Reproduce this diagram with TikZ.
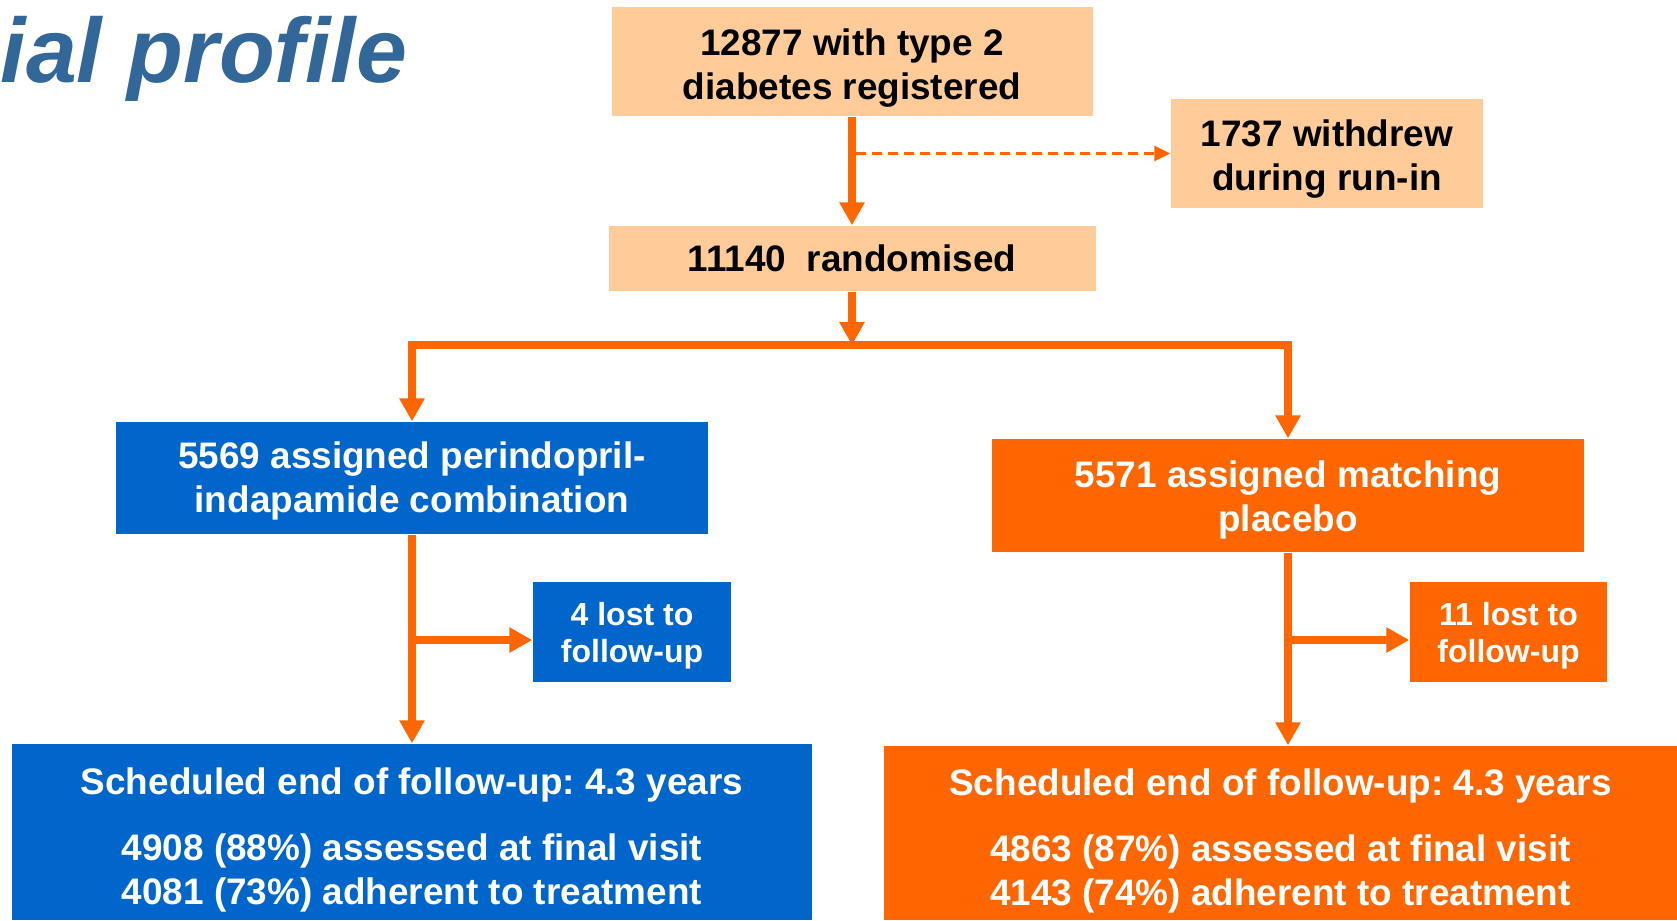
\documentclass[tikz,border=0pt]{standalone}
\usepackage{fontspec}
\setmainfont{Liberation Sans}
\usepackage{xcolor}
\usetikzlibrary{arrows.meta,positioning,calc}
\frenchspacing

\definecolor{peach}{HTML}{FFCC99}
\definecolor{trialblue}{HTML}{0066CC}
\definecolor{trialorange}{HTML}{FF6600}
\definecolor{titleblue}{HTML}{336699}

% strut on the first line, pushes the text a little lower in its box
\newcommand{\txtdrop}[1]{\rule{0pt}{#1}}

\tikzset{
  box/.style={inner sep=0pt, align=center, font=\fontsize{10.5}{12.5}\selectfont\bfseries},
  smallbox/.style={box, font=\fontsize{9.1}{10.5}\selectfont\bfseries},
  regbox/.style={fill=peach, text=black},
  armA/.style={fill=trialblue, text=white},
  armB/.style={fill=trialorange, text=white},
  flow/.style={draw=trialorange, line width=0.075cm},
  flowarr/.style={flow, -{Triangle[length=0.23cm,width=0.24cm]}},
}

\begin{document}
\begin{tikzpicture}
\useasboundingbox (0,0) rectangle (16.77,-9.2);

\node[anchor=base west, inner sep=0pt, text=titleblue, font=\fontsize{26}{30}\selectfont\bfseries\itshape] (title) at (0,-0.82) {ial profile};

\node[box,regbox,minimum width=4.81cm,minimum height=1.09cm] (reg) at (8.52,-0.615) {\txtdrop{0.39cm}12877 with type 2\\diabetes registered};
\node[box,regbox,minimum width=3.12cm,minimum height=1.09cm] (wd) at (13.27,-1.535) {\txtdrop{0.37cm}1737 withdrew\\during run-in};
\node[box,regbox,minimum width=4.87cm,minimum height=0.65cm] (rand) at (8.52,-2.585) {11140\ \ randomised};

\node[box,armA,minimum width=5.92cm,minimum height=1.12cm] (perin) at (4.12,-4.78) {\txtdrop{0.32cm}5569 assigned perindopril-\\indapamide combination};
\node[box,armB,minimum width=5.92cm,minimum height=1.13cm] (plac) at (12.88,-4.955) {\txtdrop{0.35cm}5571 assigned matching\\placebo};

\node[smallbox,armA,minimum width=1.98cm,minimum height=1.0cm] (lostA) at (6.32,-6.32) {\txtdrop{0.30cm}4 lost to\\follow-up};
\node[smallbox,armB,minimum width=1.97cm,minimum height=1.0cm] (lostB) at (15.085,-6.32) {\txtdrop{0.30cm}11 lost to\\follow-up};

\node[box,armA,minimum width=7.99cm,minimum height=1.76cm] (endA) at (4.12,-8.32) {\txtdrop{0.43cm}Scheduled end of follow-up: 4.3 years\\[0.22cm]4908 (88\%) assessed at final visit\\4081 (73\%) adherent to treatment};
\node[box,armB,minimum width=7.93cm,minimum height=1.74cm] (endB) at (12.805,-8.33) {\txtdrop{0.43cm}Scheduled end of follow-up: 4.3 years\\[0.22cm]4863 (87\%) assessed at final visit\\4143 (74\%) adherent to treatment};

\coordinate (split) at (8.52,-3.45);
\coordinate (brA) at (4.12,-6.40);
\coordinate (brB) at (12.88,-6.40);

% run-in
\draw[flowarr] (reg) -- (rand);
\draw[trialorange, line width=0.025cm, dash pattern=on 0.1cm off 0.06cm, -{Triangle[length=0.16cm,width=0.15cm]}] (wd.west -| reg.south) ++(0.04,0) -- (wd.west);

% randomisation
\draw[flowarr] (rand) -- (split);
\draw[flowarr] (split) -| (perin.north);
\draw[flowarr] (split) -| (plac.north);

% follow-up
\draw[flowarr] (perin) -- (endA);
\draw[flowarr] (plac.south) -- (plac.south |- endB.north);
\draw[flowarr] (brA) -- (brA -| lostA.west);
\draw[flowarr] (brB) -- (brB -| lostB.west);
\end{tikzpicture}
\end{document}
